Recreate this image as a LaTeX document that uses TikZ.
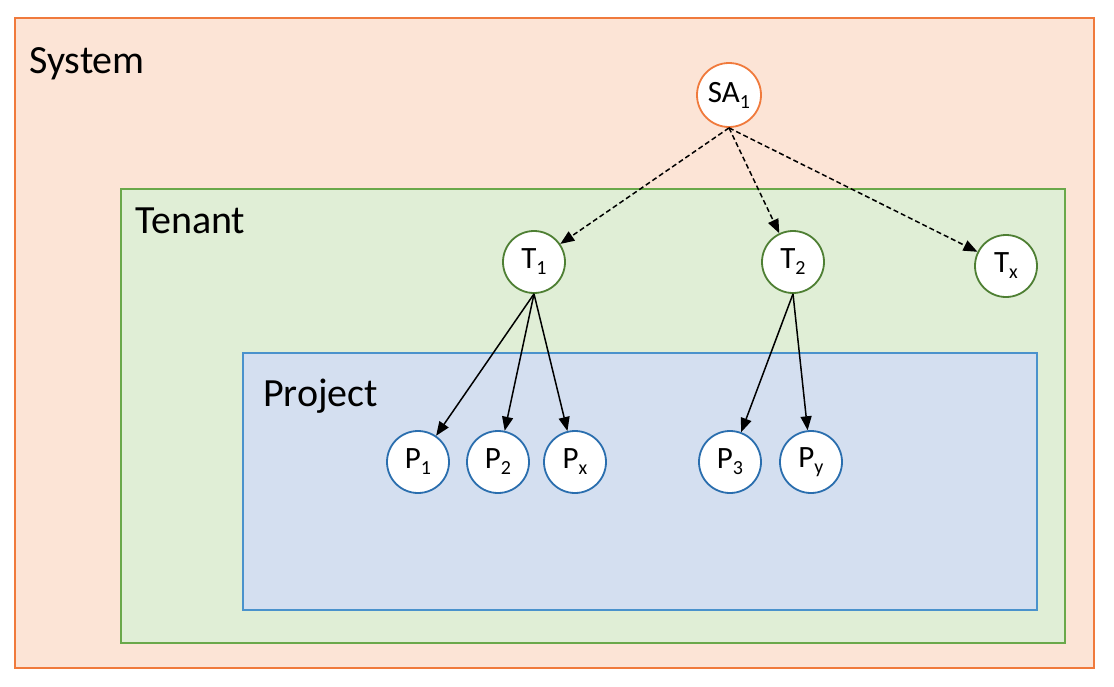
\documentclass[tikz,border=0pt]{standalone}
\usepackage{fontspec}
\setmainfont{Carlito}
\usetikzlibrary{arrows.meta}
\definecolor{sysfill}{HTML}{FCE4D6}
\definecolor{sysdraw}{HTML}{F07A3C}
\definecolor{tenfill}{HTML}{E0EED6}
\definecolor{tendraw}{HTML}{6AA84A}
\definecolor{profill}{HTML}{D4DFF0}
\definecolor{prodraw}{HTML}{4A92CC}
\definecolor{tcirc}{HTML}{4E7F33}
\definecolor{pcirc}{HTML}{2A6EAE}
\newcommand\mysub[1]{\raisebox{-6pt}{\fontsize{20}{20}\selectfont #1}}
\begin{document}
\begin{tikzpicture}[x=1pt,y=-1pt,
  boxlabel/.style={anchor=base west,inner sep=0pt,font=\fontsize{40}{42}\selectfont},
  circ/.style={circle,fill=white,line width=1.8pt,minimum size=62pt,inner sep=0pt,font=\fontsize{31}{32}\selectfont},
  sacirc/.style={circ,draw=sysdraw},
  tencirc/.style={circ,draw=tcirc},
  procirc/.style={circ,draw=pcirc},
  arr/.style={line width=1.5pt,-{Triangle[length=14pt,width=11pt]}},
  darr/.style={arr,dash pattern=on 5pt off 3pt}]
\useasboundingbox (0,0) rectangle (1114,686);
\fill[white] (0,0) rectangle (1114,686);
\draw[fill=sysfill,draw=sysdraw,line width=2pt] (15,18) rectangle (1094,668);
\draw[fill=tenfill,draw=tendraw,line width=2pt] (121,189) rectangle (1065,643);
\draw[fill=profill,draw=prodraw,line width=2pt] (243,353) rectangle (1037,610);
\node[boxlabel] (lsys) at (29,73) {System};
\node[boxlabel] (lten) at (135,233) {Tenant};
\node[boxlabel] (lpro) at (263,406) {Project};
\node[sacirc,minimum size=64pt] (sa) at (729,95) {SA\mysub{1}};
\node[tencirc] (t1) at (534,262) {T\mysub{1}};
\node[tencirc] (t2) at (793,262) {T\mysub{2}};
\node[tencirc] (tx) at (1006,266) {T\mysub{x}};
\node[procirc] (p1) at (418,462) {P\mysub{1}};
\node[procirc] (p2) at (498,462) {P\mysub{2}};
\node[procirc] (px) at (575,462) {P\mysub{x}};
\node[procirc] (p3) at (730,462) {P\mysub{3}};
\node[procirc] (py) at (811,462) {P\mysub{y}};
\draw[darr] (sa.south) -- (t1);
\draw[darr] (sa.south) -- (t2);
\draw[darr] (sa.south) -- (tx);
\draw[arr] (t1.south) -- (p1);
\draw[arr] (t1.south) -- (p2);
\draw[arr] (t1.south) -- (px);
\draw[arr] (t2.south) -- (p3);
\draw[arr] (t2.south) -- (py);
\end{tikzpicture}
\end{document}
